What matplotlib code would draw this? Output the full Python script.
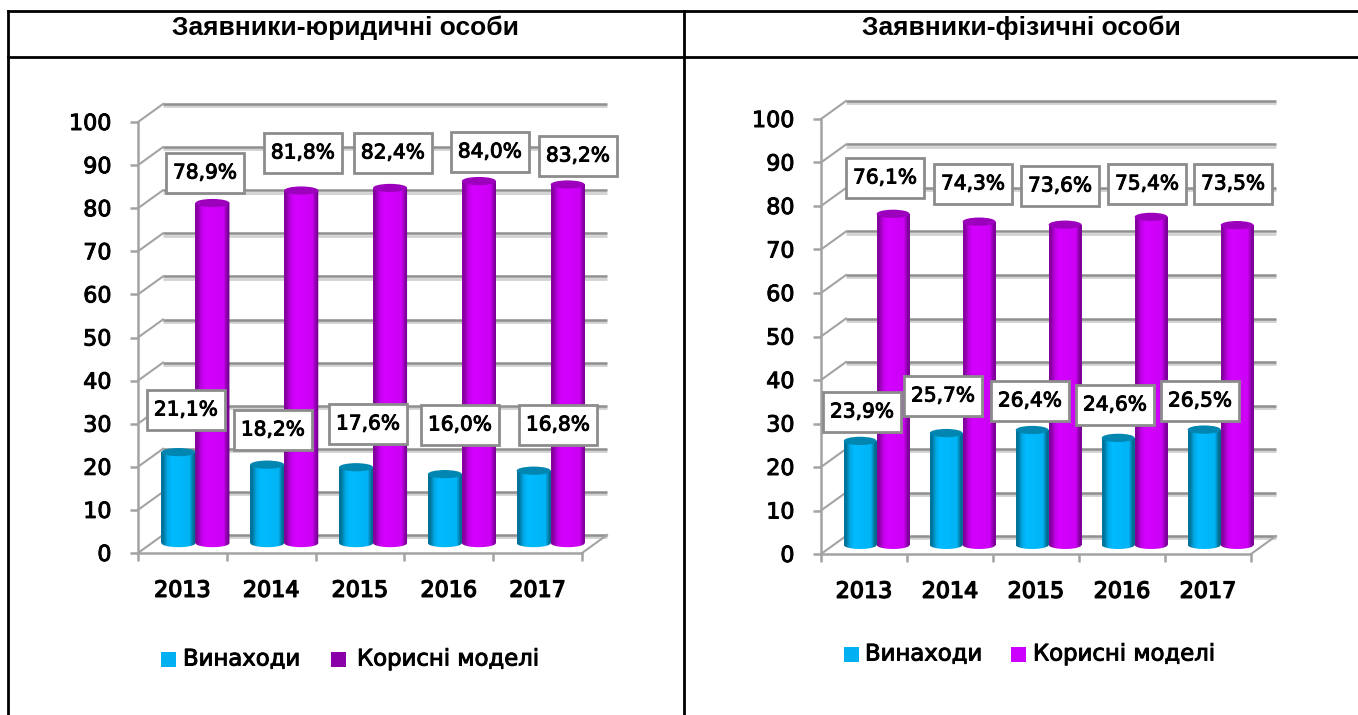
#!/usr/bin/env python
import matplotlib
matplotlib.use('Agg')
import matplotlib.pyplot as plt
import matplotlib.patheffects as pe
import numpy as np
from matplotlib.patches import Ellipse, Polygon

W, H = 1358, 715

years = ['2013', '2014', '2015', '2016', '2017']
series_names = ['Винаходи', 'Корисні моделі']

legal_inventions = [21.1, 18.2, 17.6, 16.0, 16.8]
legal_models = [78.9, 81.8, 82.4, 84.0, 83.2]
person_inventions = [23.9, 25.7, 26.4, 24.6, 26.5]
person_models = [76.1, 74.3, 73.6, 75.4, 73.5]

legal_title = 'Заявники-юридичні особи'
person_title = 'Заявники-фізичні особи'

# label box centres in pixels
legal_inv_boxes = [(186, 410), (273, 430), (368, 424), (460, 425), (558, 425)]
legal_mod_boxes = [(205, 173), (303, 153), (393, 153), (490, 152), (578, 156)]
person_inv_boxes = [(862, 412), (943, 396), (1030, 401), (1115, 405), (1200, 401)]
person_mod_boxes = [(885, 178), (973, 184), (1060, 186), (1147, 184), (1233, 184)]

BLUE = ['#00739a', '#00bbff', '#00b4f5', '#005f80']
BLUE_CAP = '#0086b0'
PURPLE = ['#85009f', '#d400ff', '#cc00f5', '#6f0088']
PURPLE_CAP = '#9c00bd'
AXIS_GRAY = '#a3a3a3'
GRID_GRAY = '#8f8f8f'
SHADOW = '#d2d2d2'

bold_fx = [pe.withStroke(linewidth=0.7, foreground='black')]


def make_cmap(cols):
    return matplotlib.colors.LinearSegmentedColormap.from_list('c', cols)


def cylinder(ax, x, width, base, value, cols, cap, capH):
    top = base + value
    ax.bar(x, value, width, bottom=base, color=cols[0], zorder=3, clip_on=False)
    t = np.linspace(np.pi, 2*np.pi, 30)
    ex = x + width/2*np.cos(t)
    ey = base + capH/2*np.sin(t)
    pts = [(x - width/2, top)] + list(zip(ex, ey)) + [(x + width/2, top)]
    poly = Polygon(pts, closed=True, transform=ax.transData, facecolor='none', edgecolor='none')
    ax.add_patch(poly)
    grad = np.array([[0.0, 0.25, 0.33, 0.4, 0.5, 0.6, 0.67, 0.95]])
    im = ax.imshow(grad, cmap=make_cmap(cols), vmin=0, vmax=1, aspect='auto', interpolation='bilinear',
                   extent=(x - width/2, x + width/2, base - capH, top), zorder=3.1)
    im.set_clip_path(poly)
    im.set_clip_box(ax.figure.bbox)
    ax.add_patch(Ellipse((x, top), width, capH, facecolor=cap, edgecolor='none', zorder=3.2, clip_on=False))


def draw_chart(fig, px_left, px_right, px_y0, px_y100, inv, mod, base):
    ax = fig.add_axes([px_left/W, 1 - px_y0/H, (px_right - px_left)/W, (px_y0 - px_y100)/H])
    ax.patch.set_alpha(0)
    dx = 25/((px_right - px_left)/5)
    dy = 18/((px_y0 - px_y100)/100)

    for v in range(0, 101, 10):
        # back wall line with its soft shadow, and the diagonal to the axis
        ax.plot([dx, 5 + dx], [v + dy - 0.55, v + dy - 0.55], color=SHADOW, lw=2, clip_on=False, zorder=1,
                solid_capstyle='butt')
        ax.plot([dx, 5 + dx], [v + dy, v + dy], color=GRID_GRAY, lw=1.8, clip_on=False, zorder=1.1,
                solid_capstyle='butt')
        ax.plot([0, dx], [v, v + dy], color=AXIS_GRAY, lw=1.5, clip_on=False, zorder=1.2)
    ax.plot([5, 5 + dx], [0, dy], color=AXIS_GRAY, lw=1.5, clip_on=False, zorder=1.2)

    xc = np.arange(5) + 0.5
    width = 0.383
    off = 0.147
    capH = 1.9
    for i in range(5):
        cylinder(ax, xc[i] + off - width/2, width, base, inv[i], BLUE, BLUE_CAP, capH)
        cylinder(ax, xc[i] + off + width/2, width, base, mod[i], PURPLE, PURPLE_CAP, capH)

    ax.set_xlim(0, 5)
    ax.set_ylim(0, 100)
    ax.set_yticks(range(0, 101, 10))
    ax.set_xticks(range(6))
    ax.set_xticklabels([])
    ax.set_xticks(xc, years, minor=True)
    ax.tick_params(axis='x', which='major', length=6, width=1.8, color=AXIS_GRAY)
    ax.tick_params(axis='x', which='minor', length=0, pad=20, labelsize=16)
    ax.tick_params(axis='y', length=6, width=1.8, color=AXIS_GRAY, pad=13, labelsize=16)
    for lab in ax.get_xticklabels(minor=True):
        lab.set_path_effects([pe.withStroke(linewidth=1.0, foreground='black')])
    for lab in ax.get_yticklabels():
        lab.set_path_effects(bold_fx)
    for side in ['top', 'right']:
        ax.spines[side].set_visible(False)
    for side in ['left', 'bottom']:
        ax.spines[side].set_color(AXIS_GRAY)
        ax.spines[side].set_linewidth(1.8)
    return ax


fig = plt.figure(figsize=(W/100, H/100), dpi=100, facecolor='white')

ax1 = draw_chart(fig, 138, 582, 553, 122, legal_inventions, legal_models, 2.3)
ax2 = draw_chart(fig, 821, 1251, 554, 119, person_inventions, person_models, 2.1)

# overlay in pixel coordinates for the table frame and value boxes
over = fig.add_axes([0, 0, 1, 1])
over.set_xlim(0, W)
over.set_ylim(H, 0)
over.axis('off')
over.patch.set_alpha(0)

over.plot([8, W], [11, 11], color='black', lw=2)
over.plot([8, W], [57, 57], color='black', lw=2)
over.plot([8, 8], [11, H], color='black', lw=2)
over.plot([684, 684], [11, H], color='black', lw=2)

tfont = ['Liberation Sans', 'DejaVu Sans']
over.text(345, 28, legal_title, ha='center', va='center', fontsize=19, fontweight='bold', family=tfont)
over.text(1021, 28, person_title, ha='center', va='center', fontsize=19, fontweight='bold', family=tfont)


def value_boxes(values, boxes):
    for v, (bx, by) in zip(values, boxes):
        s = ('%.1f%%' % v).replace('.', ',')
        over.add_patch(plt.Rectangle((bx - 39, by - 20), 78, 40, facecolor='white', edgecolor='#8c8c8c', lw=2, zorder=5))
        over.text(bx, by, s, ha='center', va='center', fontsize=14.5, color='black', zorder=6, path_effects=bold_fx)


value_boxes(legal_inventions, legal_inv_boxes)
value_boxes(legal_models, legal_mod_boxes)
value_boxes(person_inventions, person_inv_boxes)
value_boxes(person_models, person_mod_boxes)


def legend(swatch1, text1, swatch2, text2, y, col2):
    over.add_patch(plt.Rectangle((swatch1, y - 7.5), 15, 15, facecolor='#00b0f0', edgecolor='none'))
    over.add_patch(plt.Rectangle((swatch2, y - 7.5), 15, 15, facecolor=col2, edgecolor='none'))
    over.text(text1, y, series_names[0], ha='left', va='center', fontsize=16.4, path_effects=bold_fx)
    over.text(text2, y, series_names[1], ha='left', va='center', fontsize=16.4, path_effects=bold_fx)


legend(161, 183, 331, 357, 659, '#8a00a8')
legend(844, 865, 1011, 1033, 654, '#cc00ff')

fig.savefig('out.png', dpi=100)
